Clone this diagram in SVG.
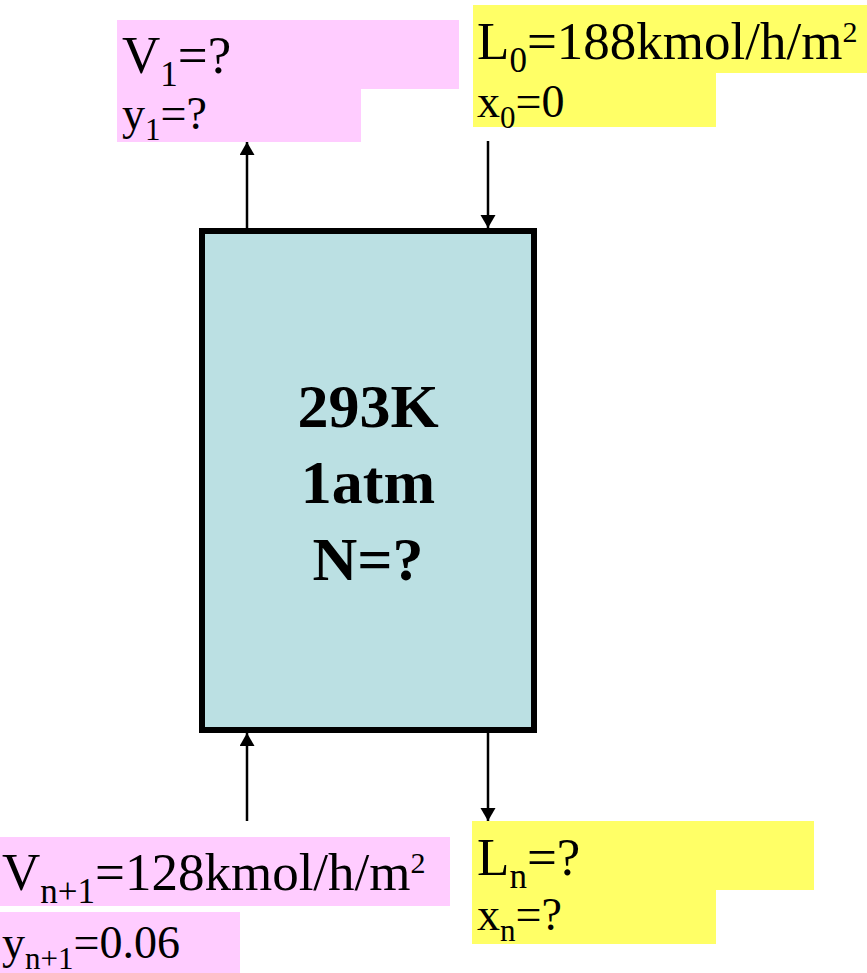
<svg xmlns="http://www.w3.org/2000/svg" width="867" height="973" viewBox="0 0 867 973">
<style>
.pink{fill:#FFCCFF}
.yel{fill:#FFFF66}
.t1{font-family:"Liberation Serif","Times New Roman",serif;font-size:53px;fill:#000}
.t2{font-family:"Liberation Serif","Times New Roman",serif;font-size:46px;fill:#000}
.ctr{font-family:"Liberation Serif","Times New Roman",serif;font-size:62px;font-weight:bold;fill:#000;text-anchor:middle}
.conn{stroke:#000;stroke-width:2.5;fill:none;marker-end:url(#ah)}
</style>
<defs>
<marker id="ah" markerUnits="userSpaceOnUse" markerWidth="14" markerHeight="16" refX="13" refY="7.5" orient="auto">
<path d="M0,0 L13,7.5 L0,15 z" fill="#000"/>
</marker>
</defs>
<rect width="867" height="973" fill="#fff"/>
<g id="column">
<rect x="202" y="231" width="332" height="499" fill="#BBE0E3" stroke="#000" stroke-width="6"/>
<text class="ctr" x="368" y="427">293K</text>
<text class="ctr" x="368" y="503">1atm</text>
<text class="ctr" x="368" y="580">N=?</text>
</g>
<g id="vapor-out">
<rect class="pink" x="117" y="20" width="342" height="69"/>
<rect class="pink" x="117" y="89" width="244" height="53"/>
<text class="t1" x="122" y="73">V<tspan font-size="35" dy="13">1</tspan><tspan dy="-13">=?</tspan></text>
<text class="t2" x="122" y="129">y<tspan font-size="31" dy="11">1</tspan><tspan dy="-11">=?</tspan></text>
</g>
<g id="liquid-in">
<rect class="yel" x="473" y="5" width="394" height="68"/>
<rect class="yel" x="473" y="73" width="243" height="54"/>
<text class="t1" x="477" y="59">L<tspan font-size="35" dy="13">0</tspan><tspan dy="-13">=188kmol/h/m</tspan><tspan font-size="30" dy="-17">2</tspan></text>
<text class="t2" x="477" y="117">x<tspan font-size="31" dy="11">0</tspan><tspan dy="-11">=0</tspan></text>
</g>
<g id="vapor-in">
<rect class="pink" x="0" y="837" width="450" height="69"/>
<rect class="pink" x="0" y="912" width="240" height="61"/>
<text class="t1" x="2" y="890">V<tspan font-size="35" dy="13">n+1</tspan><tspan dy="-13">=128kmol/h/m</tspan><tspan font-size="30" dy="-17">2</tspan></text>
<text class="t2" x="2" y="958">y<tspan font-size="31" dy="11">n+1</tspan><tspan dy="-11">=0.06</tspan></text>
</g>
<g id="liquid-out">
<rect class="yel" x="472" y="821" width="342" height="69"/>
<rect class="yel" x="472" y="890" width="244" height="54"/>
<text class="t1" x="477" y="875">L<tspan font-size="35" dy="13">n</tspan><tspan dy="-13">=?</tspan></text>
<text class="t2" x="477" y="930">x<tspan font-size="31" dy="11">n</tspan><tspan dy="-11">=?</tspan></text>
</g>
<g id="connectors">
<line class="conn" x1="247" y1="228" x2="247" y2="142"/>
<line class="conn" x1="488" y1="141" x2="488" y2="228"/>
<line class="conn" x1="247" y1="821" x2="247" y2="733"/>
<line class="conn" x1="488" y1="733" x2="488" y2="821"/>
</g>
</svg>
